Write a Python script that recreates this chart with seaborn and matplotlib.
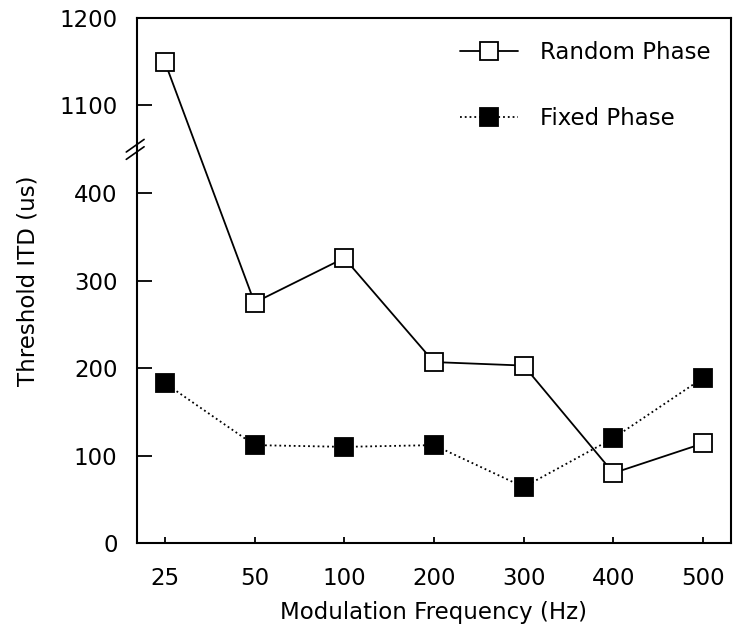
import numpy as np
import pandas as pd
import matplotlib
matplotlib.use("Agg")
import matplotlib.pyplot as plt
import seaborn as sns

# data
freqs = ["25", "50", "100", "200", "300", "400", "500"]
random_phase = [1150, 275, 326, 207, 203, 80, 114]
fixed_phase = [183, 112, 110, 112, 64, 120, 189]
ytick_vals = [0, 100, 200, 300, 400, 1100, 1200]

sns.set_style("ticks")
plt.rcParams["font.family"] = ["DejaVu Sans"]
plt.rcParams["font.size"] = 16
plt.rcParams["text.color"] = "black"
plt.rcParams["axes.labelcolor"] = "black"
plt.rcParams["xtick.color"] = "black"
plt.rcParams["ytick.color"] = "black"
plt.rcParams["axes.edgecolor"] = "black"

df = pd.DataFrame({"freq": freqs, "random": random_phase, "fixed": fixed_phase})

fig = plt.figure(figsize=(7.34, 6.34), dpi=100)
ax = fig.add_axes([0.1866, 0.1435, 0.8093, 0.8281])


# broken axis: 400..1000 squeezed to nearly nothing
def fwd(v):
    v = np.asarray(v, dtype=float)
    return np.where(v <= 400, v, np.where(v >= 1000, v - 599.4, 400 + (v - 400) * 1e-3))


def inv(u):
    u = np.asarray(u, dtype=float)
    return np.where(u <= 400, u, np.where(u >= 400.6, u + 599.4, 400 + (u - 400) * 1e3))


sns.pointplot(data=df, x="freq", y="random", order=freqs, color="black",
              markers="s", linestyles="-", errorbar=None, label="Random Phase",
              markersize=13, markerfacecolor="white", markeredgecolor="black",
              markeredgewidth=1.3, linewidth=1.3, ax=ax)
sns.pointplot(data=df, x="freq", y="fixed", order=freqs, color="black",
              markers="s", linestyles=":", errorbar=None, label="Fixed Phase",
              markersize=13, markerfacecolor="black", markeredgecolor="black",
              markeredgewidth=1.3, linewidth=1.3, ax=ax)

ax.set_yscale("function", functions=(fwd, inv))
ax.set_ylim(0, 1200)
ax.set_yticks(ytick_vals)
ax.set_yticklabels([str(v) for v in ytick_vals])
ax.set_xlim(-0.31, 6.31)

ax.tick_params(axis="y", direction="in", length=11, width=1.3, labelsize=16.5, pad=14)
ax.tick_params(axis="x", direction="in", length=4, width=1.3, labelsize=16.5, pad=17)
for s in ax.spines.values():
    s.set_linewidth(1.5)

ax.set_xlabel("Modulation Frequency (Hz)", fontsize=16.5, labelpad=8)
ax.set_ylabel("Threshold ITD (us)", fontsize=16.5, labelpad=14)

# break marks on the left spine, midway between 400 and 1100
yb = (fwd(400) + fwd(1100)) / 2 / fwd(1200)
for dy in (-0.007, 0.007):
    ax.plot([-0.018, 0.012], [yb + dy - 0.012, yb + dy + 0.012], transform=ax.transAxes,
            color="black", linewidth=1.2, clip_on=False)

ax.legend(loc="upper right", frameon=False, fontsize=16.5, handlelength=2.5,
          labelspacing=1.9, borderaxespad=0.6, handletextpad=1.0,
          bbox_to_anchor=(1.005, 1.0))

fig.savefig("out.png", dpi=100)
